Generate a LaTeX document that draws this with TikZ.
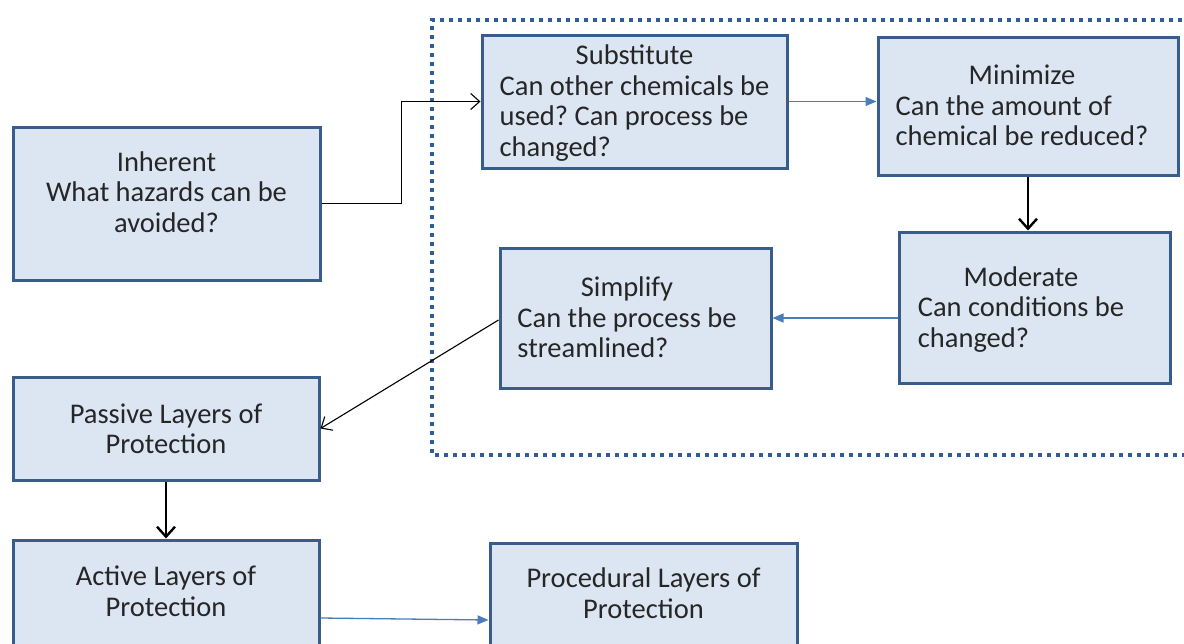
\documentclass[tikz,border=0pt]{standalone}
\usepackage{fontspec}
\setmainfont{Carlito}
\usetikzlibrary{arrows.meta}
\definecolor{boxfill}{HTML}{DCE6F2}
\definecolor{boxline}{HTML}{385D8A}
\definecolor{dotc}{HTML}{2F5C9C}
\definecolor{bluearr}{HTML}{4A7EBB}
\frenchspacing
\tikzset{
  stepbox/.style={draw=boxline, line width=3pt, fill=boxfill, rectangle, inner sep=0pt, align=center,
    font=\fontsize{28.5}{30.5}\selectfont, text=black!85},
  bluelink/.style={draw=bluearr, line width=1.3pt, -{Triangle[length=11pt,width=9pt]}},
  thinlink/.style={draw=black, line width=1.1pt, -{Straight Barb[length=9pt,width=16pt]}},
  thicklink/.style={draw=black, line width=2.4pt, -{Straight Barb[length=10pt,width=18pt]}},
  groupframe/.style={draw=dotc, line width=4pt, dash pattern=on 4pt off 5pt}
}
\newcommand{\tlines}[2]{\raisebox{-3pt}[\height][\depth]{\begin{tabular}{@{}l@{}}\multicolumn{1}{@{}c@{}}{#1}\\#2\end{tabular}}}
\newcommand{\clines}[1]{\begin{tabular}{@{}c@{}}#1\end{tabular}}
\begin{document}
\begin{tikzpicture}[x=1pt,y=-1pt]
\useasboundingbox (0,0) rectangle (1184,643);
\clip (0,0) rectangle (1184,643);
\fill[white] (0,0) rectangle (1184,643);
\draw[groupframe] (1200,20) -- (432,20) -- (432,455) -- (1200,455);

\node[stepbox, minimum width=307pt, minimum height=153pt] (inh) at (166.5,203.5)
  {\raisebox{8pt}[\height][\depth]{\clines{Inherent\\What hazards can be\\avoided?}}};
\node[stepbox, minimum width=305pt, minimum height=133pt] (sub) at (634.5,101.5)
  {\tlines{Substitute}{Can other chemicals be\\used? Can process be\\changed?}};
\node[stepbox, minimum width=300pt, minimum height=138pt] (min) at (1028,106)
  {\tlines{Minimize}{Can the amount of\\chemical be reduced?}\hspace{12pt}};
\node[stepbox, minimum width=271pt, minimum height=151pt] (mod) at (1034.5,307.5)
  {\tlines{Moderate}{Can conditions be\\changed?}\hspace{27pt}};
\node[stepbox, minimum width=271pt, minimum height=140pt] (simp) at (635.5,318)
  {\tlines{Simplify}{Can the process be\\streamlined?}\hspace{17pt}};
\node[stepbox, minimum width=306pt, minimum height=103pt] (pas) at (166,428.5)
  {\raisebox{-4pt}[\height][\depth]{\clines{Passive Layers of\\Protection}}};
\node[stepbox, minimum width=306pt, minimum height=130pt] (act) at (166,605)
  {\raisebox{10pt}[\height][\depth]{\clines{Active Layers of\\Protection}}};
\node[stepbox, minimum width=307pt, minimum height=130pt] (proc) at (643.5,608)
  {\raisebox{11pt}[\height][\depth]{\clines{Procedural Layers of\\Protection}}};

\draw[thinlink] (inh.east) -- ++(80,0) |- (sub.west);
\draw[bluelink] (sub.east) -- (min.west |- sub.east);
\draw[thicklink] (min.south) -- (min.south |- mod.north);
\draw[bluelink] (mod.west |- simp.east) -- (simp.east);
\draw[thinlink] ([yshift=-2pt]simp.west) -- (pas.east);
\draw[thicklink] (pas.south) -- (act.north);
\draw[bluelink] ([yshift=-13pt]act.east) -- ([yshift=-12pt]proc.west);
\end{tikzpicture}
\end{document}
